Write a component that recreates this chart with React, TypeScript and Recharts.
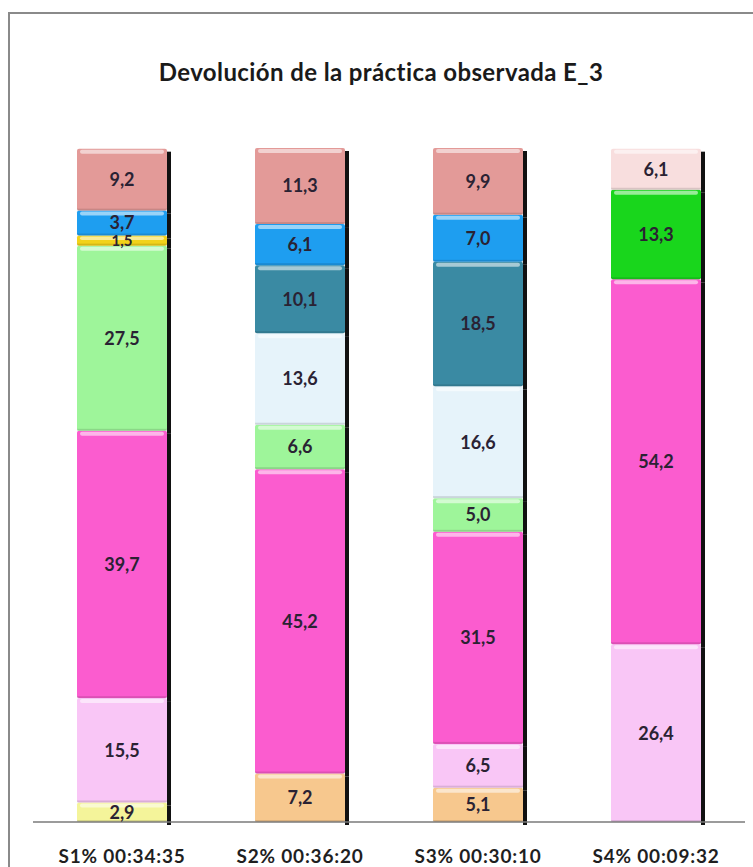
import React from 'react';
import { BarChart, Bar, XAxis, YAxis, LabelList } from 'recharts';

// categories (sessions with % and duration)
const sessions = ['S1% 00:34:35', 'S2% 00:36:20', 'S3% 00:30:10', 'S4% 00:09:32'];

// segment values per series, bottom to top, null where the segment is absent
const lightYellow = [2.9, null, null, null];
const peach = [null, 7.2, 5.1, null];
const lightPink = [15.5, null, 6.5, 26.4];
const magenta = [39.7, 45.2, 31.5, 54.2];
const lightGreen = [27.5, 6.6, 5.0, null];
const paleBlue = [null, 13.6, 16.6, null];
const teal = [null, 10.1, 18.5, null];
const yellow = [1.5, null, null, null];
const green = [null, null, null, 13.3];
const blue = [3.7, 6.1, 7.0, null];
const rosy = [9.2, 11.3, 9.9, null];
const palePink = [null, null, null, 6.1];

const SERIES = [
    { key: 'lightYellow', values: lightYellow, color: '#f4f49a' },
    { key: 'peach', values: peach, color: '#f7c88e' },
    { key: 'lightPink', values: lightPink, color: '#f9c6f6' },
    { key: 'magenta', values: magenta, color: '#fb5ccf' },
    { key: 'lightGreen', values: lightGreen, color: '#9ef59a' },
    { key: 'paleBlue', values: paleBlue, color: '#e6f3fa' },
    { key: 'teal', values: teal, color: '#3a8aa3' },
    { key: 'yellow', values: yellow, color: '#f2d21a' },
    { key: 'green', values: green, color: '#19d61c' },
    { key: 'blue', values: blue, color: '#1e9ef0' },
    { key: 'rosy', values: rosy, color: '#e39a98' },
    { key: 'palePink', values: palePink, color: '#f8dede' },
];

const data = sessions.map((name, i) => {
    const row: Record<string, any> = { name };
    SERIES.forEach((s) => { row[s.key] = s.values[i]; });
    return row;
});

const FONT = 'Lato, "Open Sans", sans-serif';

// stacked segment with a bevel highlight and a dark drop shadow on the right
const Segment = (props: any) => {
    const { x, y, width, height, fill } = props;
    if (!height || height <= 0) return null;
    return (
        <g>
            <rect x={x + width} y={y + 3} width={4} height={height} fill="#111" />
            <rect x={x} y={y} width={width} height={height} fill={fill} rx={2} />
            <rect x={x + 3} y={y + 1} width={width - 6} height={Math.min(4, height / 3)} fill="#fff" opacity={0.55} rx={2} />
            <rect x={x} y={y + height - 2} width={width} height={2} fill="#000" opacity={0.12} />
        </g>
    );
};

const fmt = (v: any) => (v == null || v === 0 ? '' : Number(v).toFixed(1).replace('.', ','));

const SessionTick = (props: any) => {
    const { x, y, payload } = props;
    return (
        <text x={x} y={y + 33} textAnchor="middle" fontFamily={FONT} fontWeight={700} fontSize={19} letterSpacing={0.8} fill="#1f1f1f">
            {payload.value}
        </text>
    );
};

export default function App() {
    return (
        <div style={{ position: 'absolute', left: 8, top: 12, width: 743, height: 853, borderLeft: '2px solid #8a8a8a', borderTop: '2px solid #8a8a8a', background: '#fff' }}>
            <svg width={743} height={90} style={{ position: 'absolute', left: 0, top: 0 }}>
                <text x={371} y={67} textAnchor="middle" fontFamily={FONT} fontWeight={700} fontSize={24} letterSpacing={0.4} fill="#1a1a1a">
                    Devolución de la práctica observada E_3
                </text>
            </svg>
            <BarChart
                width={743}
                height={853}
                data={data}
                margin={{ top: 134, right: 8, bottom: 6, left: 23 }}
                barSize={90}
            >
                <XAxis
                    dataKey="name"
                    axisLine={{ stroke: '#7a7a7a', strokeWidth: 1.5 }}
                    tickLine={false}
                    tick={<SessionTick />}
                    height={39}
                    interval={0}
                />
                <YAxis hide domain={[0, 100]} />
                {SERIES.map((s) => (
                    <Bar key={s.key} dataKey={s.key} stackId="a" fill={s.color} shape={<Segment />} isAnimationActive={false}>
                        <LabelList
                            dataKey={s.key}
                            position="center"
                            formatter={fmt}
                            style={{ fontFamily: FONT, fontWeight: 700, fontSize: s.key === 'yellow' ? 15 : 18, fill: '#2a2233' }}
                        />
                    </Bar>
                ))}
            </BarChart>
        </div>
    );
}
